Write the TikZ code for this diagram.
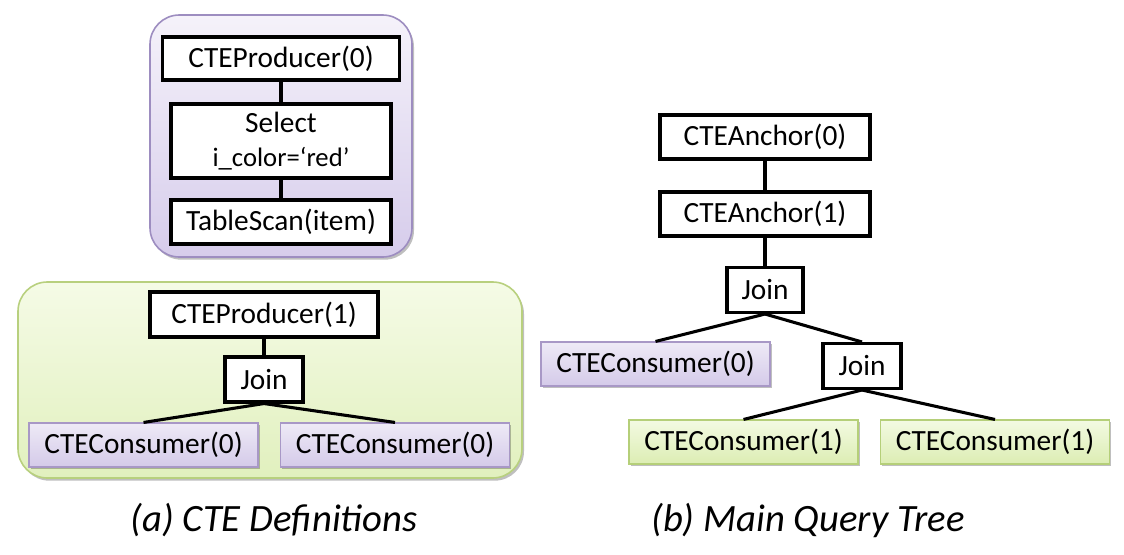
\documentclass[tikz,border=0pt]{standalone}
\usepackage{fontspec}
\setmainfont{Carlito}
\usetikzlibrary{shadows}
\definecolor{pgborder}{HTML}{9D8DC0}
\definecolor{pgtop}{HTML}{F5F2FA}
\definecolor{pgbot}{HTML}{D6CCEB}
\definecolor{pctop}{HTML}{EEEAF6}
\definecolor{pcbot}{HTML}{D4CAE9}
\definecolor{pcborder}{HTML}{A898C6}
\definecolor{ggborder}{HTML}{B8D07E}
\definecolor{ggtop}{HTML}{F5FBE6}
\definecolor{ggbot}{HTML}{E1F0BE}
\definecolor{gctop}{HTML}{F3FAE2}
\definecolor{gcbot}{HTML}{DCEDB3}
\definecolor{gcborder}{HTML}{B5CF79}
\tikzset{
  opbox/.style={draw=black, line width=2.3pt, fill=white, inner sep=0pt, align=center,
    font=\fontsize{22}{24}\selectfont},
  consbox/.style={inner sep=0pt, line width=0.8pt, minimum width=229\px, minimum height=44\px,
    font=\fontsize{22}{24}\selectfont,
    drop shadow={shadow xshift=1.2pt, shadow yshift=-1.5pt, opacity=0.25, fill=black}},
  purplecons/.style={consbox, draw=pcborder, top color=pctop, bottom color=pcbot},
  greencons/.style={consbox, draw=gcborder, top color=gctop, bottom color=gcbot},
  edge/.style={draw=black, line width=2.3pt},
  grp/.style={rounded corners=22pt, line width=1.2pt,
    drop shadow={shadow xshift=1.5pt, shadow yshift=-2pt, opacity=0.25, fill=black}},
  caption/.style={font=\fontsize{29}{34}\selectfont\itshape, inner sep=0pt}
}
\newlength{\px}
\setlength{\px}{0.75pt}
\begin{document}
\begin{tikzpicture}[x=0.75pt, y=-0.75pt]
\useasboundingbox (0,0) rectangle (1124,554);
% groups
\path[grp, draw=pgborder, top color=pgtop, bottom color=pgbot] (150,15) rectangle (412,257);
\path[grp, draw=ggborder, top color=ggtop, bottom color=ggbot] (18,282) rectangle (522,478);

% (a) purple group
\node[opbox, minimum width=237\px, minimum height=43\px] (p0) at (281,58.5) {CTEProducer(0)};
\node[opbox, minimum width=220\px, minimum height=74\px] (sel) at (281,141) {Select\\[1pt]{\fontsize{20}{22}\selectfont i\_color=‘red’}};
\node[opbox, minimum width=220\px, minimum height=44\px] (ts) at (281,222) {TableScan(item)};
\draw[edge] (p0.south) -- (sel.north);
\draw[edge] (sel.south) -- (ts.north);

% (a) green group
\node[opbox, minimum width=228\px, minimum height=45\px] (p1) at (264,314.5) {CTEProducer(1)};
\node[opbox, minimum width=78\px, minimum height=45\px] (j0) at (264,379.5) {Join};
\node[purplecons] (c0a) at (143.5,445) {CTEConsumer(0)};
\node[purplecons] (c0b) at (395,445) {CTEConsumer(0)};
\draw[edge] (p1.south) -- (j0.north);
\draw[edge] (j0.south) -- (c0a.north);
\draw[edge] (j0.south) -- (c0b.north);

% (b) main query tree
\node[opbox, minimum width=210\px, minimum height=44\px] (a0) at (765,137) {CTEAnchor(0)};
\node[opbox, minimum width=210\px, minimum height=44\px] (a1) at (765,214) {CTEAnchor(1)};
\node[opbox, minimum width=76\px, minimum height=45\px] (j1) at (765,290) {Join};
\node[purplecons] (m0) at (655.5,364) {CTEConsumer(0)};
\node[opbox, minimum width=78\px, minimum height=45\px] (j2) at (862,366) {Join};
\node[greencons] (m1a) at (743.5,442) {CTEConsumer(1)};
\node[greencons] (m1b) at (995,442) {CTEConsumer(1)};
\draw[edge] (a0.south) -- (a1.north);
\draw[edge] (a1.south) -- (j1.north);
\draw[edge] (j1.south) -- (m0.north);
\draw[edge] (j1.south) -- (j2.north);
\draw[edge] (j2.south) -- (m1a.north);
\draw[edge] (j2.south) -- (m1b.north);

% captions
\node[caption] (capa) at (274,520) {(a) CTE Definitions};
\node[caption] (capb) at (808,520) {(b) Main Query Tree};
\end{tikzpicture}
\end{document}
